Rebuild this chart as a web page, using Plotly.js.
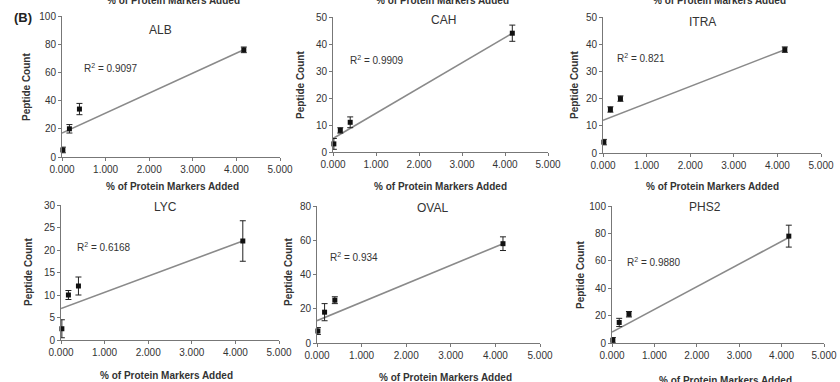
<!DOCTYPE html>
<html>
<head>
<meta charset="utf-8">
<script src="https://cdn.plot.ly/plotly-3.0.1.min.js"></script>
<style>html,body{margin:0;padding:0;background:#fff;}#chart{width:840px;height:382px;}</style>
</head>
<body>
<div id="chart"></div>
<script>
// ---- data ----
const proteins = ["ALB", "CAH", "ITRA", "LYC", "OVAL", "PHS2"];
const xMarkers = [0.02, 0.17, 0.4, 4.17];          // % of protein markers added
const albCounts  = [5, 20, 34, 76];
const albErr     = [2, 3, 4, 2];
const cahCounts  = [3, 8, 11, 44];
const cahErr     = [2, 1, 2, 3];
const itraCounts = [4, 16, 20, 38];
const itraErr    = [1, 1, 1, 1];
const lycCounts  = [2.5, 10, 12, 22];
const lycErr     = [2, 1, 2, 4.5];
const ovalCounts = [7, 18, 25, 58];
const ovalErr    = [2, 5, 2, 4];
const phs2Counts = [2, 15, 21, 78];
const phs2Err    = [2, 3, 2, 8];
const fitX       = [0, 4.17];
const albFit  = [17, 76];
const cahFit  = [5, 44];
const itraFit = [12, 38];
const lycFit  = [7, 22];
const ovalFit = [13, 58];
const phs2Fit = [8, 77];
const r2Labels = ["0.9097", "0.9909", "0.821", "0.6168", "0.934", "0.9880"];
const yMax = [100, 50, 50, 30, 80, 100];
const yStep = [20, 10, 10, 5, 20, 20];
const xTickVals = [0, 1, 2, 3, 4, 5];
const xTickText = ["0.000", "1.000", "2.000", "3.000", "4.000", "5.000"];
const xTitle = "% of Protein Markers Added";
const yTitle = "Peptide Count";

const counts = [albCounts, cahCounts, itraCounts, lycCounts, ovalCounts, phs2Counts];
const errs = [albErr, cahErr, itraErr, lycErr, ovalErr, phs2Err];
const fits = [albFit, cahFit, itraFit, lycFit, ovalFit, phs2Fit];

// ---- layout geometry (pixels) ----
const W = 840, H = 382;
const boxes = [
  {l: 62,  r: 280, t: 16,  b: 157},
  {l: 333, r: 548, t: 17,  b: 152},
  {l: 603, r: 821, t: 17,  b: 153},
  {l: 61,  r: 279, t: 205, b: 340},
  {l: 317, r: 540, t: 206, b: 343},
  {l: 612, r: 824, t: 206, b: 343}
];
const titlePos = [[160,30],[443,20],[702,22],[165,207],[433,208],[705,207]];
const r2Pos = [[82,68],[348,60],[615,58],[75,247],[328,257],[625,262]];
const yTitlePos = [[27,87],[300,85],[574,85],[28,272],[288,272],[580,275]];
const xTitlePos = [[172,186],[440,186],[712,186],[166,375],[445,377],[725,380]];
const topCutPos = [[173,0],[442,0],[719,0]];

const px = x => x / W;
const py = y => 1 - y / H;
const FONT = "Liberation Sans, Arial, sans-serif";
const TXT = "#333";
const AX = "#777";

const data = [];
const layout = {
  width: W, height: H,
  margin: {l: 0, r: 0, t: 0, b: 0},
  paper_bgcolor: "#fff", plot_bgcolor: "#fff",
  showlegend: false,
  font: {family: FONT, color: TXT},
  annotations: []
};

proteins.forEach((p, i) => {
  const n = i + 1;
  const xa = "x" + (n === 1 ? "" : n), ya = "y" + (n === 1 ? "" : n);
  const b = boxes[i];
  data.push({
    type: "scatter", mode: "lines", x: fitX, y: fits[i],
    xaxis: xa, yaxis: ya, line: {color: "#8a8a8a", width: 1.6},
    cliponaxis: false, hoverinfo: "skip"
  });
  data.push({
    type: "scatter", mode: "markers", x: xMarkers, y: counts[i],
    xaxis: xa, yaxis: ya,
    marker: {symbol: "square", size: 5, color: "#111"},
    error_y: {type: "data", array: errs[i], visible: true, color: "#222", thickness: 1, width: 3},
    cliponaxis: false
  });
  const yt = [];
  for (let v = 0; v <= yMax[i]; v += yStep[i]) yt.push(v);
  const common = {
    showline: true, linecolor: AX, linewidth: 1, ticks: "outside", ticklen: 3,
    tickcolor: AX, showgrid: false, zeroline: false, fixedrange: true,
    tickfont: {family: FONT, size: 10, color: TXT}
  };
  layout["xaxis" + (n === 1 ? "" : n)] = Object.assign({}, common, {
    domain: [px(b.l), px(b.r)], range: [0, 5], anchor: ya,
    tickvals: xTickVals, ticktext: xTickText
  });
  layout["yaxis" + (n === 1 ? "" : n)] = Object.assign({}, common, {
    domain: [py(b.b), py(b.t)], range: [0, yMax[i]], anchor: xa,
    tickvals: yt
  });
  layout.annotations.push({
    text: p, xref: "paper", yref: "paper", x: px(titlePos[i][0]), y: py(titlePos[i][1]),
    showarrow: false, xanchor: "center", yanchor: "middle",
    font: {family: FONT, size: 12, color: TXT}
  });
  layout.annotations.push({
    text: "R<sup>2</sup> = " + r2Labels[i], xref: "paper", yref: "paper",
    x: px(r2Pos[i][0]), y: py(r2Pos[i][1]), showarrow: false,
    xanchor: "left", yanchor: "middle", font: {family: FONT, size: 10, color: TXT}
  });
  layout.annotations.push({
    text: "<b>" + yTitle + "</b>", xref: "paper", yref: "paper",
    x: px(yTitlePos[i][0]), y: py(yTitlePos[i][1]), showarrow: false, textangle: -90,
    xanchor: "center", yanchor: "middle", font: {family: FONT, size: 10, color: TXT}
  });
  layout.annotations.push({
    text: "<b>" + xTitle + "</b>", xref: "paper", yref: "paper",
    x: px(xTitlePos[i][0]), y: py(xTitlePos[i][1]), showarrow: false,
    xanchor: "center", yanchor: "middle", font: {family: FONT, size: 10, color: TXT}
  });
});
topCutPos.forEach(pos => {
  layout.annotations.push({
    text: "<b>" + xTitle + "</b>", xref: "paper", yref: "paper",
    x: px(pos[0]), y: py(pos[1]), showarrow: false,
    xanchor: "center", yanchor: "middle", font: {family: FONT, size: 10, color: TXT}
  });
});
layout.annotations.push({
  text: "<b>(B)</b>", xref: "paper", yref: "paper", x: px(23), y: py(18),
  showarrow: false, xanchor: "center", yanchor: "middle",
  font: {family: FONT, size: 13, color: "#222"}
});

Plotly.newPlot("chart", data, layout, {displayModeBar: false, staticPlot: true});
</script>
</body>
</html>
